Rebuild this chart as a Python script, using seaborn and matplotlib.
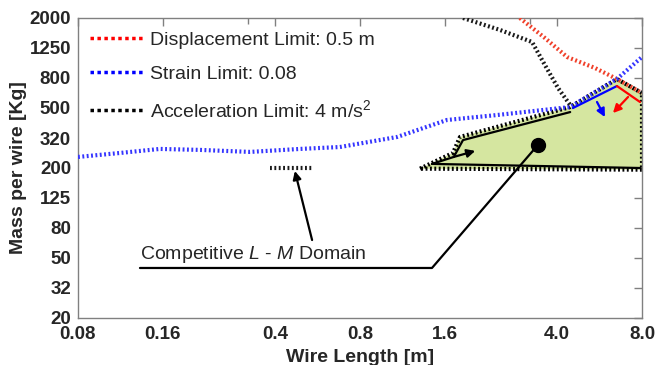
import matplotlib
matplotlib.use("Agg")
import matplotlib.pyplot as plt
import seaborn as sns
import numpy as np
import pandas as pd
from matplotlib.lines import Line2D

# ---------------- data ----------------
strain_x = [0.08, 0.113, 0.156, 0.217, 0.326, 0.49, 0.679, 1.083, 1.628, 2.45, 4.45, 6.52, 8.0]
strain_y = [237, 252, 268, 264, 256, 268, 276, 322, 418, 451, 510, 784, 1099]

disp_x = [2.95, 3.62, 4.34, 5.45, 6.52, 8.0]
disp_y = [2000, 1472, 1099, 928, 784, 632]

accel_x = [1.855, 2.51, 3.26, 3.62, 4.03, 4.45]
accel_y = [2000, 1664, 1384, 972, 683, 526]

accel_short_x = [0.384, 0.541]
accel_short_y = [200, 200]

domain_x = [1.306, 1.709, 1.81, 4.45, 6.52, 8.0, 8.0, 1.306]
domain_y = [198, 252, 322, 510, 784, 632, 195, 198]

upper_x = [1.44, 1.72, 1.855, 4.45]
upper_y = [213, 237, 307, 472]
lower_x = [1.44, 7.87]
lower_y = [213, 200]

blue_seg_x = [4.55, 6.52]
blue_seg_y = [502, 704]
red_seg_x = [6.52, 7.87]
red_seg_y = [704, 551]

circle_x, circle_y = 3.42, 285
annot_x = [3.42, 1.44, 0.1327]
annot_y = [285, 43.1, 43.1]

xticks = [0.08, 0.16, 0.4, 0.8, 1.6, 4.0, 8.0]
xtick_labels = ["0.08", "0.16", "0.4", "0.8", "1.6", "4.0", "8.0"]
xminor = [0.32, 3.2]
ytick_labels = ["20", "32", "50", "80", "125", "200", "320", "500", "800", "1250", "2000"]
yticks = [20 * 10 ** (k / 5) for k in range(11)]

labels = ["Displacement Limit: 0.5 m", "Strain Limit: 0.08", "Acceleration Limit: 4 m/s$^2$"]

# ---------------- style ----------------
sns.set_style("white")
plt.rcParams['font.family'] = ['Liberation Sans', 'DejaVu Sans']
plt.rcParams['mathtext.fontset'] = 'custom'
plt.rcParams['mathtext.rm'] = 'Liberation Sans'
plt.rcParams['mathtext.it'] = 'Liberation Sans:italic'

fig = plt.figure(figsize=(6.67, 3.65), dpi=100)
ax = fig.add_axes([78 / 667, 1 - 318 / 365, 564 / 667, 300 / 365])
ax.set_xscale("log")
ax.set_yscale("log")
ax.set_xlim(0.08, 8.0)
ax.set_ylim(20, 2000)

green = "#d5e6a0"
hatch = (0, (0.45, 0.6))

# domain fill
ax.fill(domain_x, domain_y, facecolor=green, edgecolor="none", zorder=1)
ax.plot(domain_x, domain_y, color="black", lw=3.0, linestyle=hatch,
        dash_capstyle="butt", zorder=2)

# limit curves via seaborn
df_d = pd.DataFrame({"x": disp_x, "y": disp_y})
df_s = pd.DataFrame({"x": strain_x, "y": strain_y})
df_a = pd.DataFrame({"x": accel_x, "y": accel_y})
sns.lineplot(data=df_d, x="x", y="y", ax=ax, color="#f0402a", lw=3.0, linestyle=hatch,
             sort=False, estimator=None, zorder=3)
sns.lineplot(data=df_s, x="x", y="y", ax=ax, color="#3535ff", lw=3.0, linestyle=hatch,
             sort=False, estimator=None, zorder=3)
sns.lineplot(data=df_a, x="x", y="y", ax=ax, color="#1a1a1a", lw=3.0, linestyle=hatch,
             sort=False, estimator=None, zorder=3)
ax.plot(accel_short_x, accel_short_y, color="#1a1a1a", lw=3.0, linestyle=hatch, zorder=3)

# solid boundary lines
ax.plot(upper_x, upper_y, color="black", lw=1.6, zorder=4)
ax.plot(lower_x, lower_y, color="black", lw=1.6, zorder=4)
ax.plot(blue_seg_x, blue_seg_y, color="#0000ff", lw=1.6, zorder=4)
ax.plot(red_seg_x, red_seg_y, color="#ff0000", lw=1.6, zorder=4)

# arrows
ap = dict(arrowstyle="-|>", lw=1.6, mutation_scale=12, shrinkA=0, shrinkB=0)
ax.annotate("", xy=(2.05, 260), xytext=(1.72, 237), arrowprops=dict(ap, color="black"), zorder=5)
ax.annotate("", xy=(5.91, 437), xytext=(5.54, 551), arrowprops=dict(ap, color="#0000ff"), zorder=5)
ax.annotate("", xy=(6.31, 465), xytext=(7.14, 595), arrowprops=dict(ap, color="#ff0000"), zorder=5)
ax.annotate("", xy=(0.47, 191), xytext=(0.541, 66.2), arrowprops=dict(ap, color="black"), zorder=5)

# annotation line + circle
ax.plot(annot_x, annot_y, color="black", lw=1.6, zorder=5)
ax.plot([circle_x], [circle_y], marker="o", ms=10, color="black", zorder=6)
ax.text(0.1327, 45, "Competitive $\\mathit{L}$ - $\\mathit{M}$ Domain", fontsize=14,
        ha="left", va="bottom", zorder=6)

# legend
handles = [Line2D([], [], color="#ff0000", lw=2.5, linestyle=(0, (1, 1))),
           Line2D([], [], color="#0000ff", lw=2.5, linestyle=(0, (1, 1))),
           Line2D([], [], color="black", lw=2.5, linestyle=(0, (1, 1)))]
ax.legend(handles, labels, loc="upper left", frameon=False, fontsize=14,
          handlelength=2.75, handletextpad=0.35, labelspacing=0.82,
          bbox_to_anchor=(-0.003, 1.0), borderaxespad=0.3)

# ticks
ax.set_xticks(xticks)
ax.set_xticklabels(xtick_labels)
ax.set_xticks(xminor, minor=True)
ax.set_xticklabels([], minor=True)
ax.set_yticks(yticks)
ax.set_yticklabels(ytick_labels)
ax.yaxis.set_minor_locator(matplotlib.ticker.NullLocator())
ax.tick_params(axis="both", which="major", direction="in", length=6, width=1,
               color="#808080", top=True, right=True)
ax.tick_params(axis="x", which="major", pad=6)
ax.tick_params(axis="y", which="major", pad=5)
ax.tick_params(axis="x", which="minor", direction="in", length=4, width=1,
               color="#808080", top=True)
for lab in ax.get_xticklabels() + ax.get_yticklabels():
    lab.set_fontweight("bold")
    lab.set_fontsize(13.5)
for s in ax.spines.values():
    s.set_color("#808080")
    s.set_linewidth(1.0)

ax.set_xlabel("Wire Length [m]", fontsize=14, fontweight="bold", labelpad=4)
ax.set_ylabel("Mass per wire [Kg]", fontsize=14, fontweight="bold", labelpad=2)

fig.savefig("out.png", dpi=100)
